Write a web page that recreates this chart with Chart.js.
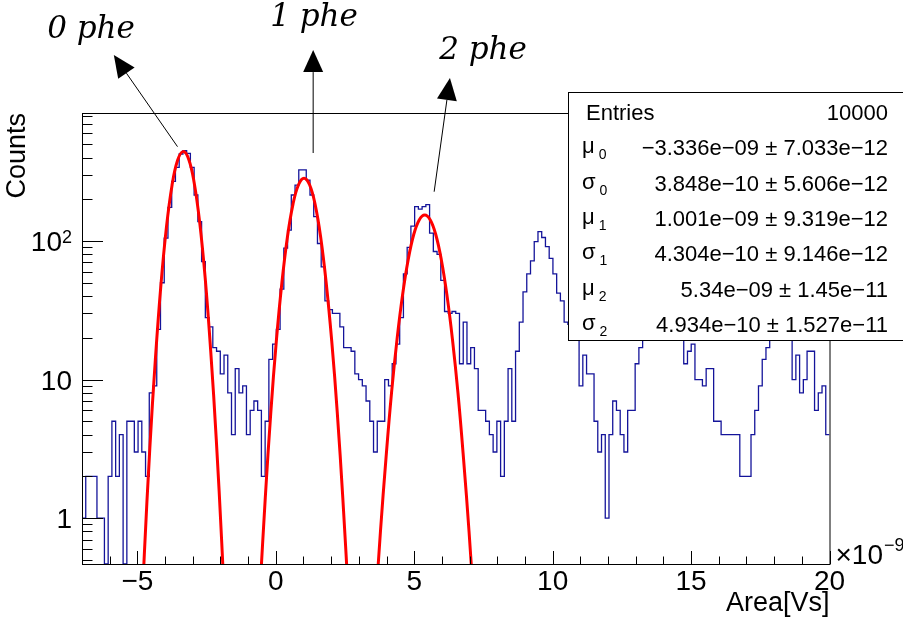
<!DOCTYPE html>
<html>
<head>
<meta charset="utf-8">
<script src="https://cdn.jsdelivr.net/npm/chart.js@4.4.0/dist/chart.umd.min.js"></script>
<style>
  html, body { margin: 0; padding: 0; background: #fff; }
  #wrap { width: 903px; height: 618px; }
</style>
</head>
<body>
<div id="wrap"><canvas id="spectrum" width="903" height="618"></canvas></div>
<script>
// Histogram: 200 bins from -7 to 20 (x1e-9 Vs), counts per bin
const binLow = -7;
const binHigh = 20;
const counts = [
  1, 2, 2, 2, 1, 1, 0, 2, 5, 2, 4, 0, 5, 5, 3, 5, 3, 2, 8, 9,
  23, 50, 105, 175, 270, 340, 425, 450, 430, 340, 215, 138, 71, 28, 24, 17, 16, 11, 15, 8,
  4, 12, 8, 9, 4, 6, 7, 6, 2, 5, 14, 18, 23, 45, 89, 120, 215, 253, 326, 326,
  275, 215, 150, 96, 65, 37, 32, 30, 30, 24, 17, 17, 16, 11, 10, 9, 7, 5, 3, 5,
  5, 10, 9, 13, 18, 28, 58, 90, 128, 177, 170, 177, 183, 114, 84, 80, 52, 31, 30, 31,
  30, 13, 26, 13, 17, 12, 6, 6, 5, 4, 3, 5, 2, 5, 12, 5, 16, 26, 43, 58,
  72, 99, 117, 106, 91, 75, 58, 42, 37, 26, 25, 22, 20, 9, 15, 11, 11, 5, 3, 4,
  1, 4, 7, 6, 4, 3, 6, 6, 13, 17, 22, 28, 35, 42, 45, 40, 38, 30, 24, 20,
  21, 13, 16, 18, 10, 10, 9, 12, 12, 5, 5, 4, 4, 4, 4, 4, 2, 2, 2, 4,
  6, 9, 14, 17, 22, 25, 28, 26, 24, 21, 10, 15, 8, 10, 16, 16, 6, 8, 9, 4
];

// Gaussian fits
const fit0X = [-4.95, -4.75, -4.55, -4.35, -4.15, -3.95, -3.75, -3.55, -3.35, -3.15, -2.95, -2.75, -2.55, -2.35, -2.15, -1.95, -1.75];
const fit0Y = [0.07, 0.54, 3.2, 14, 48, 126, 251, 381, 442, 391, 265, 137, 54, 16, 3.7, 0.65, 0.09];
const fit1X = [-0.58, -0.38, -0.18, 0.02, 0.22, 0.42, 0.62, 0.82, 1.02, 1.22, 1.42, 1.62, 1.82, 2.02, 2.22, 2.42, 2.62];
const fit1Y = [0.28, 1.4, 5.8, 19, 50, 107, 184, 255, 284, 255, 184, 107, 50, 19, 5.8, 1.4, 0.28];
const fit2X = [3.58, 3.78, 3.98, 4.18, 4.38, 4.58, 4.78, 4.98, 5.18, 5.38, 5.58, 5.78, 5.98, 6.18, 6.38, 6.58, 6.78, 6.98, 7.18];
const fit2Y = [0.2, 0.8, 2.7, 8, 19.6, 41, 73, 111, 142, 154, 142, 111, 73, 41, 19.6, 8, 2.7, 0.8, 0.2];

// Axes
const yMin = 0.466;
const yMax = 840;
const xMajorTicks = [-5, 0, 5, 10, 15, 20];
const yTickValues = [1, 10, 100];
const yTickBase = ['1', '10', '10'];
const yTickExp = ['', '', '2'];

// Stats box
const statNames = ['Entries', 'μ', 'σ', 'μ', 'σ', 'μ', 'σ'];
const statSubs = ['', '0', '0', '1', '1', '2', '2'];
const statValues = [
  '10000',
  '−3.336e−09 ± 7.033e−12',
  '3.848e−10 ± 5.606e−12',
  '1.001e−09 ± 9.319e−12',
  '4.304e−10 ± 9.146e−12',
  '5.34e−09 ± 1.45e−11',
  '4.934e−10 ± 1.527e−11'
];

// Annotations
const peakLabels = ['0 phe', '1 phe', '2 phe'];
const arrowTailX = [-3.55, 1.35, 5.72];
const arrowTailY = [480, 432, 227];
const arrowTipX = [-5.85, 1.35, 6.29];
const arrowTipY = [2200, 2390, 1500];

const SANS = '"Liberation Sans", Arial, sans-serif';

// tablica punktow dla histogramu (schodki)
const binWidth = (binHigh - binLow) / counts.length;
const histPoints = counts.map((c, i) => ({ x: binLow + i * binWidth, y: c > 0 ? c : yMin }));
histPoints.push({ x: binHigh, y: histPoints[histPoints.length - 1].y });

const toPoints = (xs, ys) => xs.map((v, i) => ({ x: v, y: ys[i] }));

function fitDataset(xs, ys) {
  return {
    data: toPoints(xs, ys),
    borderColor: '#ff0000',
    borderWidth: 3,
    pointRadius: 0,
    tension: 0.4,
    fill: false,
    order: 1
  };
}

const rootFrame = {
  id: 'rootFrame',
  afterDatasetsDraw(chart, args, opts) {
    const { ctx, chartArea: a, scales: { x, y } } = chart;
    ctx.save();
    ctx.strokeStyle = '#000';
    ctx.fillStyle = '#000';
    ctx.lineWidth = 1;

    // ramka
    ctx.strokeRect(a.left + 0.5, a.top + 0.5, a.right - a.left, a.bottom - a.top);

    // ticks osi X (do srodka)
    for (let v = Math.ceil(x.min); v <= x.max; v++) {
      const px = Math.round(x.getPixelForValue(v)) + 0.5;
      const len = v % 5 === 0 ? 13 : 7.5;
      ctx.beginPath();
      ctx.moveTo(px, a.bottom);
      ctx.lineTo(px, a.bottom - len);
      ctx.stroke();
    }
    // ticks osi Y
    for (let e = -1; e <= 3; e++) {
      for (let m = 1; m <= 9; m++) {
        const v = m * Math.pow(10, e);
        if (v < y.min || v > y.max) continue;
        const py = Math.round(y.getPixelForValue(v)) + 0.5;
        const len = m === 1 ? 21 : 10.5;
        ctx.beginPath();
        ctx.moveTo(a.left, py);
        ctx.lineTo(a.left + len, py);
        ctx.stroke();
      }
    }

    // etykiety X
    ctx.font = '28px ' + SANS;
    ctx.textAlign = 'center';
    ctx.textBaseline = 'alphabetic';
    xMajorTicks.forEach(v => {
      const label = v < 0 ? '−' + Math.abs(v) : String(v);
      ctx.fillText(label, x.getPixelForValue(v), a.bottom + 26);
    });

    // etykiety Y
    yTickValues.forEach((v, i) => {
      const py = y.getPixelForValue(v);
      let right = a.left - 10;
      if (yTickExp[i]) {
        ctx.font = '18px ' + SANS;
        ctx.textAlign = 'right';
        ctx.fillText(yTickExp[i], right, py + 2);
        right -= ctx.measureText(yTickExp[i]).width;
      }
      ctx.font = '28px ' + SANS;
      ctx.textAlign = 'right';
      ctx.fillText(yTickBase[i], right, py + 10);
    });

    // tytuly osi
    ctx.font = '27px ' + SANS;
    ctx.textAlign = 'right';
    ctx.fillText('Area[Vs]', a.right, a.bottom + 47);
    ctx.save();
    ctx.translate(25, a.top);
    ctx.rotate(-Math.PI / 2);
    ctx.fillText('Counts', 0, 0);
    ctx.restore();

    // x10^-9
    ctx.textAlign = 'left';
    ctx.font = '28px ' + SANS;
    ctx.fillText('×10', a.right + 6, a.bottom);
    const w = ctx.measureText('×10').width;
    ctx.font = '18px ' + SANS;
    ctx.fillText('−9', a.right + 6 + w + 1, a.bottom - 13);

    // strzalki i podpisy
    ctx.lineWidth = 1;
    opts.arrows.forEach((ar, i) => {
      const x0 = x.getPixelForValue(arrowTailX[i]);
      const y0 = y.getPixelForValue(arrowTailY[i]);
      const x1 = x.getPixelForValue(arrowTipX[i]);
      const y1 = y.getPixelForValue(arrowTipY[i]);
      const ang = Math.atan2(y1 - y0, x1 - x0);
      const hl = 22, hw = 10;
      const bx = x1 - hl * Math.cos(ang), by = y1 - hl * Math.sin(ang);
      ctx.beginPath();
      ctx.moveTo(x0, y0);
      ctx.lineTo(bx, by);
      ctx.stroke();
      ctx.beginPath();
      ctx.moveTo(x1, y1);
      ctx.lineTo(bx + hw * Math.sin(ang), by - hw * Math.cos(ang));
      ctx.lineTo(bx - hw * Math.sin(ang), by + hw * Math.cos(ang));
      ctx.closePath();
      ctx.fill();

      ctx.font = 'italic 31px "DejaVu Serif", Georgia, serif';
      ctx.textAlign = 'center';
      ctx.fillText(peakLabels[i], ar.labelX, ar.labelY);
    });

    // pudelko statystyk
    const b = opts.statBox;
    ctx.fillStyle = '#fff';
    ctx.fillRect(b.left, b.top, b.width, b.height);
    ctx.strokeRect(b.left + 0.5, b.top + 0.5, b.width, b.height);
    ctx.fillStyle = '#000';
    statNames.forEach((name, i) => {
      const base = b.firstBaseline + i * b.rowStep;
      ctx.font = '22px ' + SANS;
      ctx.textAlign = 'left';
      if (statSubs[i]) {
        ctx.fillText(name, b.left + 14, base - 2);
        const nw = ctx.measureText(name).width;
        ctx.font = '14px ' + SANS;
        ctx.fillText(statSubs[i], b.left + 14 + nw + 4, base + 4);
      } else {
        ctx.fillText(name, b.left + 18, base);
      }
      ctx.font = '22px ' + SANS;
      ctx.textAlign = 'right';
      ctx.fillText(statValues[i], b.valueRight, base);
    });

    ctx.restore();
  }
};

new Chart(document.getElementById('spectrum'), {
  type: 'line',
  data: {
    datasets: [
      fitDataset(fit0X, fit0Y),
      fitDataset(fit1X, fit1Y),
      fitDataset(fit2X, fit2Y),
      {
        data: histPoints,
        borderColor: '#14149a',
        borderWidth: 1.3,
        pointRadius: 0,
        stepped: 'before',
        fill: false,
        order: 2
      }
    ]
  },
  options: {
    responsive: false,
    devicePixelRatio: 1,
    animation: false,
    layout: { padding: { left: 82, top: 113, right: 73.5, bottom: 54 } },
    scales: {
      x: { type: 'linear', min: binLow, max: binHigh, bounds: 'data', display: false },
      y: { type: 'logarithmic', min: yMin, max: yMax, bounds: 'data', display: false }
    },
    plugins: {
      legend: { display: false },
      tooltip: { enabled: false },
      rootFrame: {
        arrows: [
          { labelX: 91, labelY: 38 },
          { labelX: 314, labelY: 26 },
          { labelX: 483, labelY: 59 }
        ],
        statBox: { left: 568, top: 92, width: 336, height: 248, firstBaseline: 120, rowStep: 35.3, valueRight: 888 }
      }
    }
  },
  plugins: [rootFrame]
});
</script>
</body>
</html>
